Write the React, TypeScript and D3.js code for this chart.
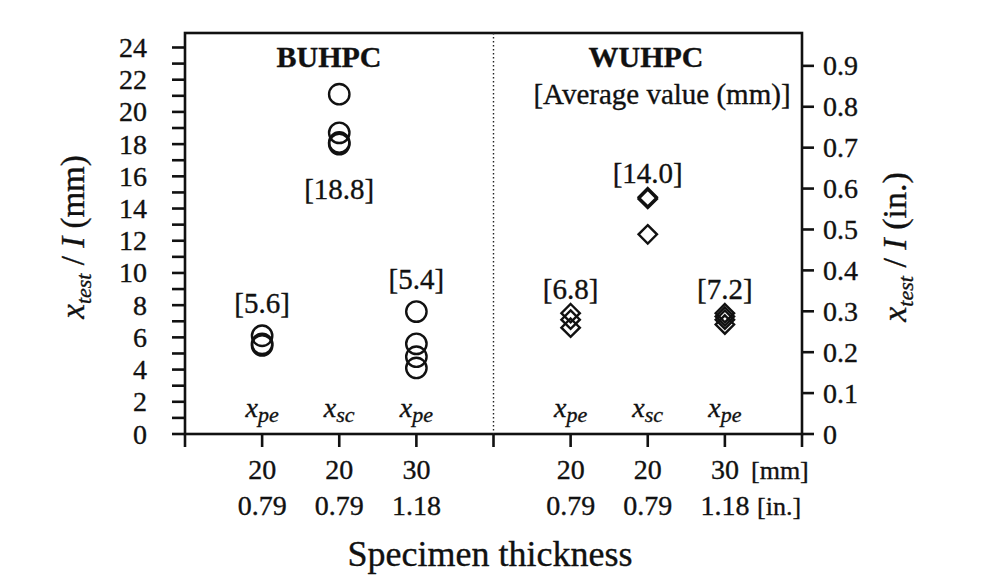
import React from "react";
import * as d3 from "d3";

// ---- data ----
const groupNames = ["BUHPC", "WUHPC"];
const slots = [1, 2, 3, 5, 6, 7];
const failureModes = ["pe", "sc", "pe", "pe", "sc", "pe"];
const thicknessMm = ["20", "20", "30", "20", "20", "30"];
const thicknessIn = ["0.79", "0.79", "1.18", "0.79", "0.79", "1.18"];
const averageLabels = ["[5.6]", "[18.8]", "[5.4]", "[6.8]", "[14.0]", "[7.2]"];
const averagePlacement = ["above", "below", "above", "above", "above", "above"];
const buhpcValues = [
  [6.1, 5.6, 5.5],
  [21.1, 18.7, 18.1, 18.0],
  [7.6, 5.6, 4.8, 4.1],
];
const wuhpcValues = [
  [7.5, 7.1, 6.6],
  [14.7, 14.6, 12.4],
  [7.5, 7.3, 7.1, 6.8],
];
const mmTicks = d3.range(0, 25, 1);
const mmLabelTicks = d3.range(0, 25, 2);
const inTicks = d3.range(0, 10, 1).map((d) => d / 10);

const W = 1004;
const H = 580;
const left = 185;
const right = 802;
const top = 33;
const bottom = 434;
const yMaxMm = 24.9;

const FONT = "Liberation Serif, Times New Roman, Tinos, serif";
const INK = "#111";

export default function App() {
  const x = d3.scaleLinear().domain([0, 8]).range([left, right]);
  const y = d3.scaleLinear().domain([0, yMaxMm]).range([bottom, top]);
  const yIn = d3.scaleLinear().domain([0, yMaxMm / 25.4]).range([bottom, top]);

  const allValues = [...buhpcValues, ...wuhpcValues];
  const circleR = 10.2;
  const dia = 9.2;

  return (
    <svg
      width={W}
      height={H}
      viewBox={`0 0 ${W} ${H}`}
      style={{ position: "absolute", left: 0, top: 0, background: "#fff", fontFamily: FONT }}
    >
      <rect x={0} y={0} width={W} height={H} fill="#fff" />
      {/* frame */}
      <rect x={left} y={top} width={right - left} height={bottom - top} fill="none" stroke={INK} strokeWidth={2.6} />
      {/* divider */}
      <line x1={x(4)} x2={x(4)} y1={top} y2={bottom} stroke="#222" strokeWidth={1.4} strokeDasharray="1.5,2.5" />

      {/* left ticks */}
      {mmTicks.map((t) => (
        <line key={"lt" + t} x1={left - 13} x2={left} y1={y(t)} y2={y(t)} stroke={INK} strokeWidth={2.6} />
      ))}
      {/* right ticks */}
      {inTicks.map((t) => (
        <line key={"rt" + t} x1={right} x2={right + 12} y1={yIn(t)} y2={yIn(t)} stroke={INK} strokeWidth={2.6} />
      ))}
      {/* bottom ticks */}
      {d3.range(0, 9).map((s) => (
        <line key={"bt" + s} x1={x(s)} x2={x(s)} y1={bottom} y2={bottom + 13} stroke={INK} strokeWidth={2.6} />
      ))}

      <g fill={INK} stroke={INK} strokeWidth={0.35}>
        {mmLabelTicks.map((t) => (
          <text key={"ll" + t} x={147} y={y(t)} dy="0.34em" textAnchor="end" fontSize={28}>
            {t}
          </text>
        ))}
        {inTicks.map((t) => (
          <text key={"rl" + t} x={823} y={yIn(t)} dy="0.34em" textAnchor="start" fontSize={28}>
            {t === 0 ? "0" : t.toFixed(1)}
          </text>
        ))}

        {/* bottom labels */}
        {slots.map((s, i) => (
          <g key={"bl" + i}>
            <text x={x(s)} y={479} textAnchor="middle" fontSize={28}>
              {thicknessMm[i]}
            </text>
            <text x={x(s)} y={515} textAnchor="middle" fontSize={28}>
              {thicknessIn[i]}
            </text>
          </g>
        ))}
        <text x={751} y={479} fontSize={26}>[mm]</text>
        <text x={757} y={515} fontSize={26}>[in.]</text>
        <text x={490} y={566} textAnchor="middle" fontSize={36}>
          Specimen thickness
        </text>

        {/* axis titles */}
        <text transform={`translate(84, 237) rotate(-90)`} textAnchor="middle" fontSize={33}>
          <tspan fontStyle="italic">x</tspan>
          <tspan fontStyle="italic" fontSize={22} dy={7}>test</tspan>
          <tspan dy={-7}> / </tspan>
          <tspan fontStyle="italic">I</tspan>
          <tspan> (mm)</tspan>
        </text>
        <text transform={`translate(906, 247) rotate(-90)`} textAnchor="middle" fontSize={34}>
          <tspan fontStyle="italic">x</tspan>
          <tspan fontStyle="italic" fontSize={22} dy={7}>test</tspan>
          <tspan dy={-7}> / </tspan>
          <tspan fontStyle="italic">I</tspan>
          <tspan> (in.)</tspan>
        </text>

        {/* group titles */}
        <text x={329} y={67} textAnchor="middle" fontSize={30} fontWeight="bold">
          {groupNames[0]}
        </text>
        <text x={646} y={67} textAnchor="middle" fontSize={30} fontWeight="bold">
          {groupNames[1]}
        </text>
        <text x={662} y={104} textAnchor="middle" fontSize={29}>
          [Average value (mm)]
        </text>

        {/* failure mode labels */}
        {slots.map((s, i) => (
          <text key={"fm" + i} x={x(s)} y={417} textAnchor="middle" fontSize={28}>
            <tspan fontStyle="italic">x</tspan>
            <tspan fontStyle="italic" fontSize={22} dy={5}>{failureModes[i]}</tspan>
          </text>
        ))}

        {/* average labels */}
        {allValues.map((vals, i) => {
          const above = averagePlacement[i] === "above";
          const yy = above ? y(d3.max(vals)!) - (i < 3 ? 23 : 14) : y(d3.min(vals)!) + 55;
          return (
            <text key={"al" + i} x={x(slots[i])} y={yy} textAnchor="middle" fontSize={29}>
              {averageLabels[i]}
            </text>
          );
        })}
      </g>

      {/* markers */}
      {allValues.map((vals, i) =>
        vals.map((v, j) =>
          i < 3 ? (
            <circle key={`c${i}-${j}`} cx={x(slots[i])} cy={y(v)} r={circleR} fill="none" stroke={INK} strokeWidth={2.4} />
          ) : (
            <path
              key={`d${i}-${j}`}
              d={`M${x(slots[i])},${y(v) - dia} L${x(slots[i]) + dia},${y(v)} L${x(slots[i])},${y(v) + dia} L${x(slots[i]) - dia},${y(v)} Z`}
              fill="none"
              stroke={INK}
              strokeWidth={2.4}
              strokeLinejoin="miter"
            />
          )
        )
      )}
    </svg>
  );
}
